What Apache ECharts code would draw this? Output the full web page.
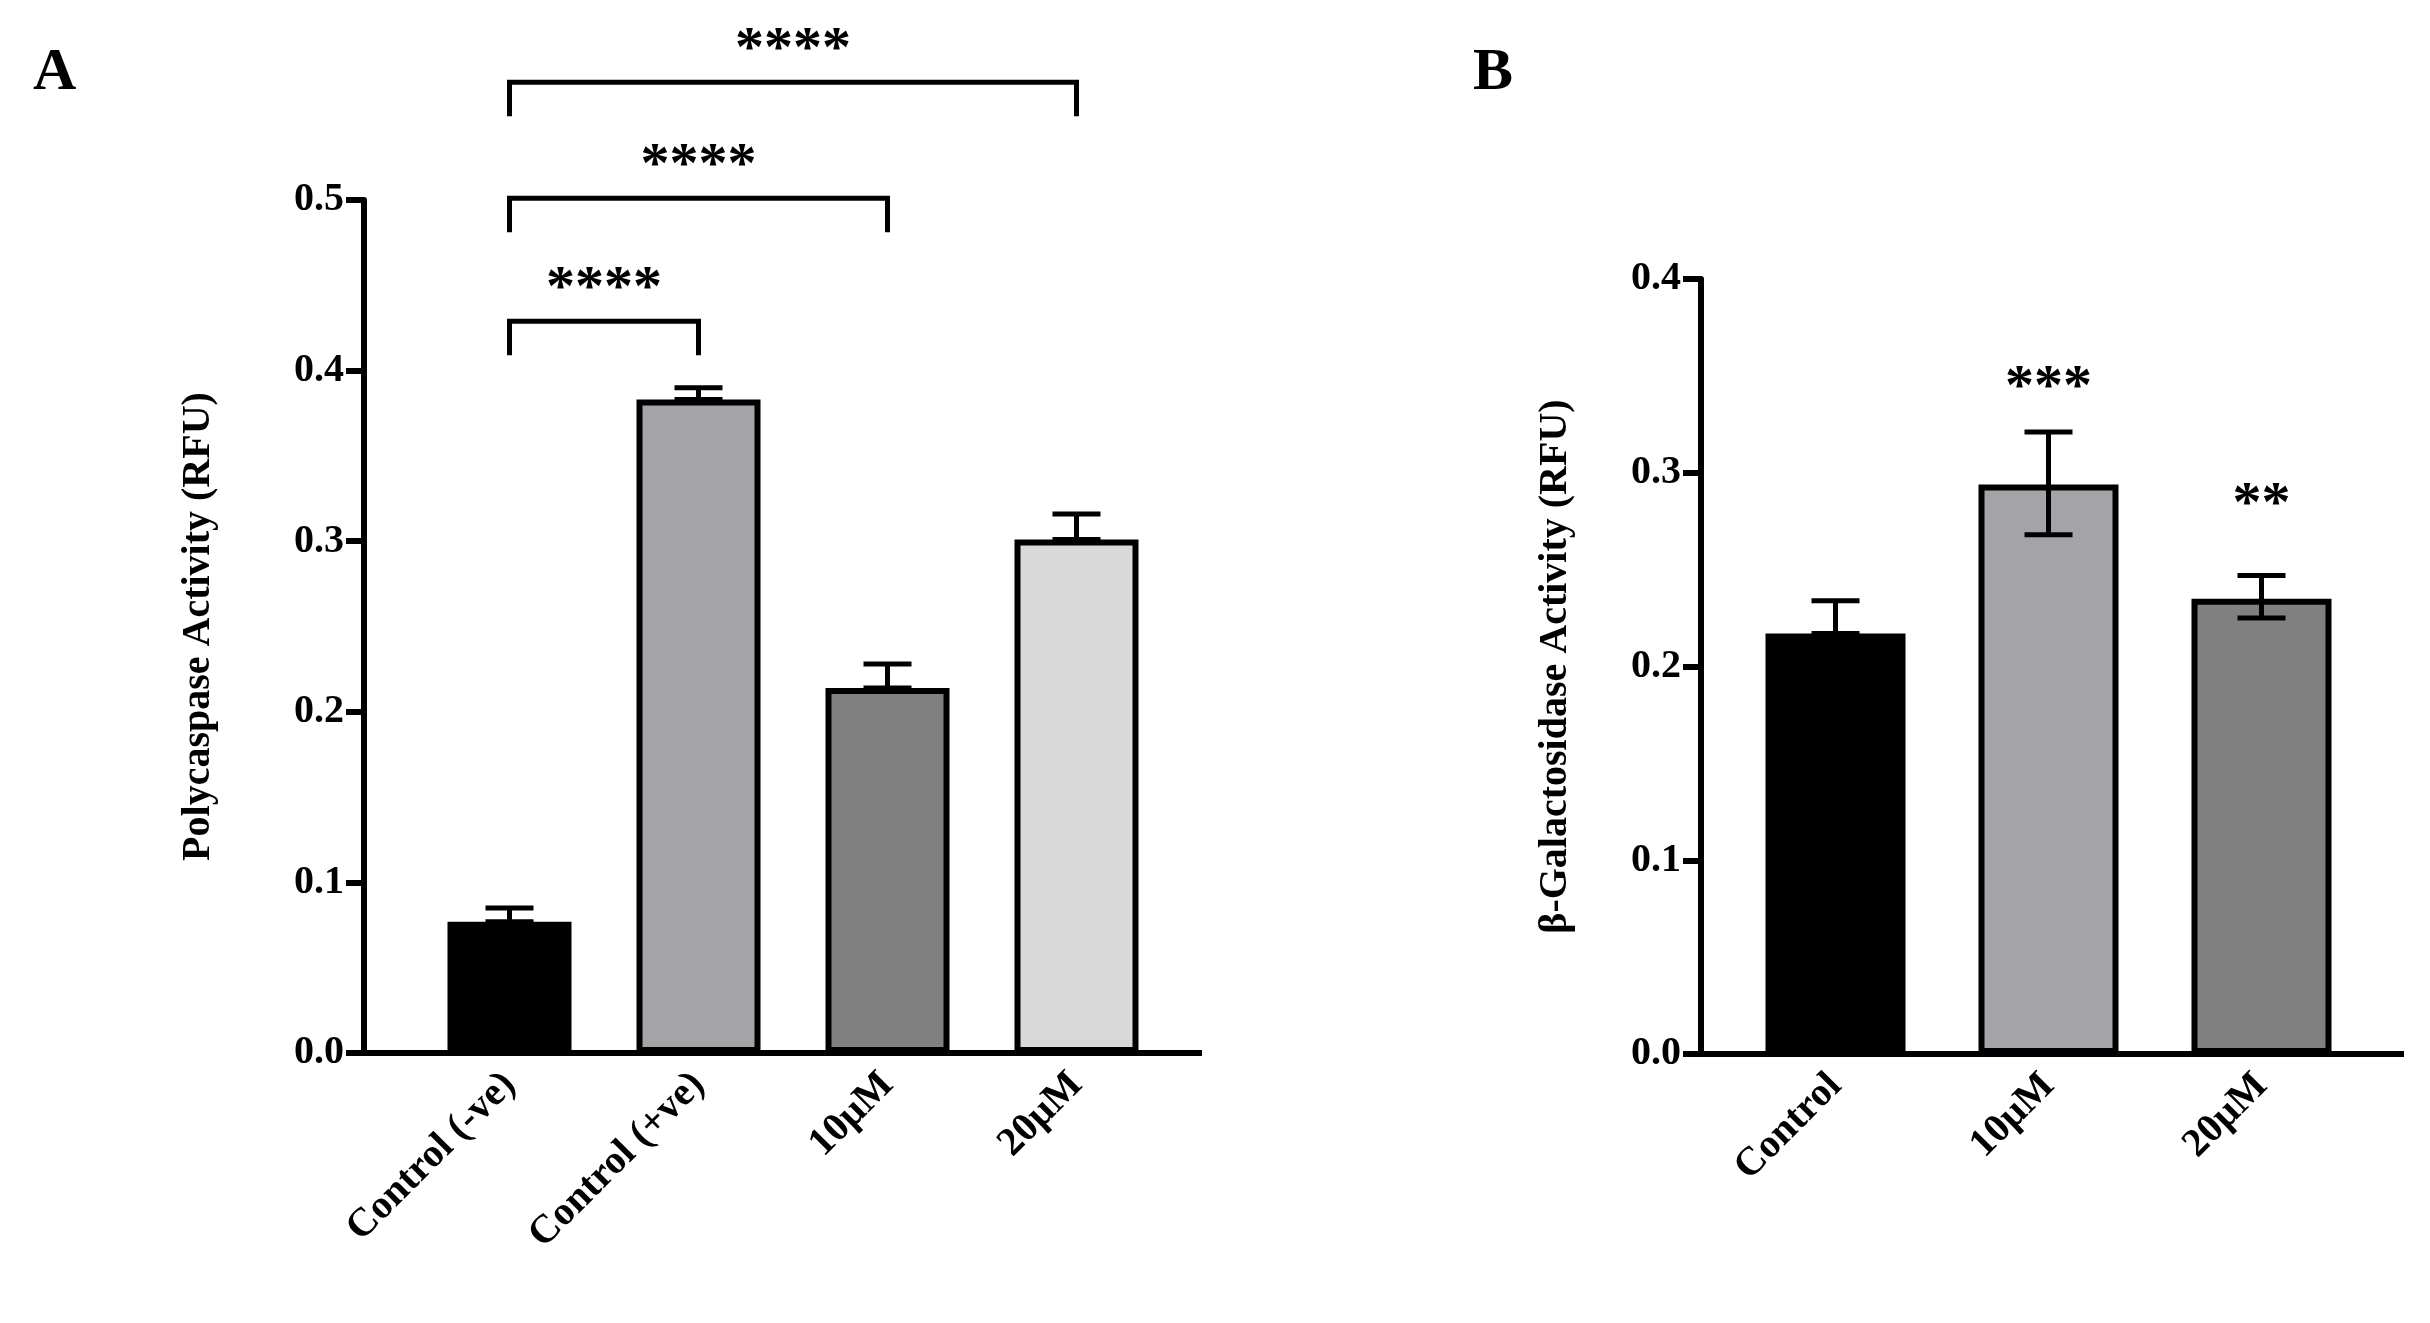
<!DOCTYPE html>
<html><head><meta charset="utf-8">
<script src="https://cdn.jsdelivr.net/npm/echarts@6/dist/echarts.min.js"></script>
<style>html,body{margin:0;background:#fff}#main{width:2430px;height:1323px}</style>
</head><body><div id="main"></div>
<script>
// Panel A
var catsA = ['Control (-ve)', 'Control (+ve)', '10µM', '20µM'];
var valsA = [0.077, 0.383, 0.214, 0.301];
var errHiA = [0.085, 0.390, 0.228, 0.316];
var errLoA = [0.077, 0.383, 0.214, 0.301];
var colorsA = ['#000000', '#a4a3a8', '#808080', '#d9d9d9'];
var bracketsA = [[0, 1, 0.429, '****'], [0, 2, 0.501, '****'], [0, 3, 0.569, '****']];
// Panel B
var catsB = ['Control', '10µM', '20µM'];
var valsB = [0.217, 0.294, 0.235];
var errHiB = [0.234, 0.321, 0.247];
var errLoB = [0.217, 0.268, 0.225];
var colorsB = ['#000000', '#a4a3a8', '#808080'];
var starsB = ['', '***', '**'];
var starYB = [0, 0.343, 0.283];

var font = 'Liberation Serif';
var myChart = echarts.init(document.getElementById('main'));

function errSeries(idx, hi, lo) {
    return {
        type: 'custom', xAxisIndex: idx, yAxisIndex: idx, z: 5,
        data: hi.map(function (h, i) { return [i, h, lo[i]]; }),
        renderItem: function (params, api) {
            var top = api.coord([api.value(0), api.value(1)]);
            var bot = api.coord([api.value(0), api.value(2)]);
            var st = { stroke: '#000', lineWidth: 5 };
            return { type: 'group', children: [
                { type: 'line', shape: { x1: top[0], y1: top[1], x2: bot[0], y2: bot[1] }, style: st },
                { type: 'line', shape: { x1: top[0] - 24, y1: top[1], x2: top[0] + 24, y2: top[1] }, style: st },
                { type: 'line', shape: { x1: bot[0] - 24, y1: bot[1], x2: bot[0] + 24, y2: bot[1] }, style: st }
            ] };
        }
    };
}
function barData(vals, cols) {
    return vals.map(function (v, i) { return { value: v, itemStyle: { color: cols[i] } }; });
}
var xAx = function (idx, cats) {
    return {
        type: 'category', gridIndex: idx, data: cats,
        axisLine: { lineStyle: { color: '#000', width: 6 } },
        axisTick: { alignWithLabel: true, length: 18, lineStyle: { width: 6, color: '#000' } },
        axisLabel: { rotate: 45, color: '#000', fontFamily: font, fontWeight: 'bold', fontSize: 40, margin: 26 }
    };
};
var yAx = function (idx, max, name, offset, gap) {
    return {
        type: 'value', gridIndex: idx, min: 0, max: max, interval: 0.1, offset: offset,
        name: name, nameLocation: 'middle', nameGap: gap,
        nameTextStyle: { color: '#000', fontFamily: font, fontWeight: 'bold', fontSize: 40 },
        splitLine: { show: false },
        axisLine: { show: true, lineStyle: { color: '#000', width: 6 } },
        axisTick: { show: true, length: 18, lineStyle: { width: 6, color: '#000' } },
        axisLabel: { color: '#000', fontFamily: font, fontWeight: 'bold', fontSize: 40, margin: 20,
            formatter: function (v) { return v.toFixed(1); } }
    };
};

var option = {
    animation: false,
    title: [
        { text: 'A', left: 28, top: 38, textStyle: { fontFamily: font, fontWeight: 'bold', fontSize: 60, color: '#000' } },
        { text: 'B', left: 1468, top: 38, textStyle: { fontFamily: font, fontWeight: 'bold', fontSize: 60, color: '#000' } }
    ],
    grid: [
        { left: 415, width: 756, top: 200, bottom: 270 },
        { left: 1729, width: 639, top: 279, bottom: 269 }
    ],
    xAxis: [xAx(0, catsA), xAx(1, catsB)],
    yAxis: [yAx(0, 0.5, 'Polycaspase Activity (RFU)', 51, 145), yAx(1, 0.4, 'β-Galactosidase Activity (RFU)', 28, 125)],
    graphic: [
        { type: 'rect', z: 100, shape: { x: 361, y: 1050, width: 841, height: 6 }, style: { fill: '#000' } },
        { type: 'rect', z: 100, shape: { x: 1698, y: 1051, width: 706, height: 6 }, style: { fill: '#000' } }
    ],
    series: [
        { type: 'bar', xAxisIndex: 0, yAxisIndex: 0, barWidth: 124, data: barData(valsA, colorsA),
          itemStyle: { borderColor: '#000', borderWidth: 6 } },
        errSeries(0, errHiA, errLoA),
        { type: 'custom', xAxisIndex: 0, yAxisIndex: 0, clip: false, data: bracketsA,
          renderItem: function (params, api) {
              var a = api.coord([api.value(0), api.value(2)]);
              var b = api.coord([api.value(1), api.value(2)]);
              var d = 34, st = { stroke: '#000', lineWidth: 5, fill: null };
              return { type: 'group', children: [
                  { type: 'polyline', shape: { points: [[a[0], a[1] + d], a, b, [b[0], b[1] + d]] }, style: st },
                  { type: 'text', x: (a[0] + b[0]) / 2, y: a[1] - 2, style: { text: bracketsA[params.dataIndex][3],
                      fontFamily: font, fontWeight: 'bold', fontSize: 58, fill: '#000', align: 'center', verticalAlign: 'bottom' } }
              ] };
          } },
        { type: 'bar', xAxisIndex: 1, yAxisIndex: 1, barWidth: 140, data: barData(valsB, colorsB),
          itemStyle: { borderColor: '#000', borderWidth: 6 } },
        errSeries(1, errHiB, errLoB),
        { type: 'custom', xAxisIndex: 1, yAxisIndex: 1, clip: false,
          data: starYB.map(function (y, i) { return [i, y]; }),
          renderItem: function (params, api) {
              var p = api.coord([api.value(0), api.value(1)]);
              return { type: 'text', x: p[0], y: p[1], style: { text: starsB[params.dataIndex],
                  fontFamily: font, fontWeight: 'bold', fontSize: 58, fill: '#000', align: 'center', verticalAlign: 'middle' } };
          } }
    ]
};
myChart.setOption(option);
</script></body></html>
